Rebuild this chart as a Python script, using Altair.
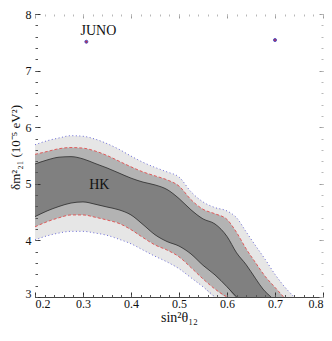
import altair as alt
import pandas as pd

# ---- data ----
# outer (light) region, boundary blue dotted
outer_x = [0.2, 0.225, 0.25, 0.275, 0.3, 0.325, 0.35, 0.375, 0.4, 0.425, 0.45, 0.475,
           0.5, 0.525, 0.55, 0.575, 0.6, 0.62, 0.64, 0.66, 0.68, 0.7, 0.72, 0.74]
outer_upper = [5.69, 5.76, 5.81, 5.85, 5.84, 5.79, 5.71, 5.61, 5.49, 5.38, 5.29, 5.21,
               5.12, 4.86, 4.68, 4.58, 4.52, 4.40, 4.15, 3.90, 3.66, 3.40, 3.18, 3.00]
outer_lower = [4.01, 4.08, 4.13, 4.16, 4.16, 4.13, 4.09, 4.02, 3.94, 3.83, 3.72, 3.62,
               3.50, 3.34, 3.18, 3.00, None, None, None, None, None, None, None, None]

# middle region, boundary red dashed
mid_x = [0.2, 0.225, 0.25, 0.275, 0.3, 0.325, 0.35, 0.375, 0.4, 0.425, 0.45, 0.475,
         0.5, 0.525, 0.55, 0.575, 0.6, 0.62, 0.64, 0.66, 0.68, 0.7, 0.718]
mid_upper = [5.52, 5.57, 5.62, 5.64, 5.63, 5.58, 5.50, 5.40, 5.30, 5.21, 5.14, 5.07,
             4.96, 4.72, 4.55, 4.47, 4.37, 4.14, 3.85, 3.60, 3.36, 3.17, 3.00]
mid_lower = [4.24, 4.33, 4.40, 4.45, 4.45, 4.41, 4.36, 4.30, 4.19, 4.05, 3.92, 3.83,
             3.71, 3.52, 3.32, 3.14, 3.00, None, None, None, None, None, None]

# inner (dark) region, boundary black solid
dark_x = [0.2, 0.225, 0.25, 0.275, 0.3, 0.325, 0.35, 0.375, 0.4, 0.425, 0.45, 0.475,
          0.5, 0.525, 0.55, 0.575, 0.6, 0.62, 0.64, 0.66, 0.675, 0.692]
dark_upper = [5.35, 5.42, 5.47, 5.48, 5.44, 5.36, 5.28, 5.19, 5.10, 5.03, 4.98, 4.90,
              4.74, 4.54, 4.38, 4.29, 4.07, 3.78, 3.57, 3.32, 3.14, 3.00]
dark_lower = [4.42, 4.52, 4.60, 4.66, 4.68, 4.64, 4.59, 4.54, 4.45, 4.28, 4.10, 3.98,
              3.90, 3.76, 3.56, 3.39, 3.18, 3.00, None, None, None, None]

# best-fit points
pt_x = [0.307, 0.70]
pt_y = [7.51, 7.54]

# labels
lab_text = ["JUNO", "HK"]
lab_x = [0.332, 0.334]
lab_y = [7.63, 4.91]

x_major = [0.2, 0.3, 0.4, 0.5, 0.6, 0.7, 0.8]
x_minor = [round(0.2 + 0.02 * i, 2) for i in range(31)]
y_major = [3, 4, 5, 6, 7, 8]
y_minor = [round(3 + 0.2 * i, 1) for i in range(26)]

W, H = 288, 283
FONT = "Liberation Serif"

xs = alt.Scale(domain=[0.2, 0.8], nice=False, zero=False)
ys = alt.Scale(domain=[3, 8], nice=False, zero=False)


def band_df(x, up, lo):
    df = pd.DataFrame({"x": x, "upper": up, "lower": lo})
    df["lower_fill"] = df["lower"].fillna(3.0)
    return df


def line_df(x, up, lo):
    df = pd.DataFrame({"x": x, "upper": up, "lower": lo})
    long = df.melt(id_vars="x", var_name="side", value_name="y").dropna()
    return long


def tick_axis(orient, offset, values, size, color):
    return alt.Axis(orient=orient, offset=offset, values=values, tickSize=size,
                    tickColor=color, tickWidth=1, labels=False, domain=False,
                    title=None, grid=False, zindex=1)


main_x = alt.Axis(orient="bottom", title="sin²θ₁₂", values=x_major, format=".1f",
                  ticks=False, domain=True, domainColor="#444444", domainWidth=1,
                  labelPadding=1, titlePadding=1, labelFontSize=12, titleFontSize=14,
                  labelFont=FONT, titleFont=FONT,
                  grid=False, zindex=1)
main_y = alt.Axis(orient="left", title="δm²₂₁ (10⁻⁵ eV²)", values=y_major, format="d",
                  ticks=False, domain=False, labelPadding=4, labelFontSize=12,
                  labelFont=FONT, titleFont=FONT,
                  titleFontSize=13, grid=False, titleX=-16, titleY=133,
                  titleAngle=270, titleAlign="center", titleBaseline="alphabetic",
                  labelBaseline={"condition": {"test": "datum.value === 3", "value": "alphabetic"},
                                 "value": "middle"})

# areas with axes
area_outer = alt.Chart(band_df(outer_x, outer_upper, outer_lower)).mark_area(
    color="#e6e6e6", interpolate="monotone").encode(
    x=alt.X("x:Q", scale=xs, axis=main_x),
    y=alt.Y("upper:Q", scale=ys, axis=main_y),
    y2="lower_fill:Q")

area_mid = alt.Chart(band_df(mid_x, mid_upper, mid_lower)).mark_area(
    color="#b3b3b3", interpolate="monotone").encode(
    x=alt.X("x:Q", scale=xs, axis=tick_axis("top", -H, x_major, 5, "#333333")),
    y=alt.Y("upper:Q", scale=ys, axis=tick_axis("right", -W, y_major, 5, "#333333")),
    y2="lower_fill:Q")

area_dark = alt.Chart(band_df(dark_x, dark_upper, dark_lower)).mark_area(
    color="#808080", interpolate="monotone").encode(
    x=alt.X("x:Q", scale=xs, axis=tick_axis("top", -H, x_minor, 2.5, "#555555")),
    y=alt.Y("upper:Q", scale=ys, axis=tick_axis("right", -W, y_minor, 2.5, "#555555")),
    y2="lower_fill:Q")

line_outer = alt.Chart(line_df(outer_x, outer_upper, outer_lower)).mark_line(
    color="#6a6ad6", strokeWidth=1, strokeDash=[1, 2.5], interpolate="monotone").encode(
    x=alt.X("x:Q", scale=xs, axis=tick_axis("bottom", -H, x_major, 4, "#9a9a9a")),
    y=alt.Y("y:Q", scale=ys, axis=tick_axis("left", -W, y_major, 4, "#9a9a9a")),
    detail="side:N")

line_mid = alt.Chart(line_df(mid_x, mid_upper, mid_lower)).mark_line(
    color="#e05a5a", strokeWidth=1, strokeDash=[3, 2], interpolate="monotone").encode(
    x=alt.X("x:Q", scale=xs, axis=tick_axis("bottom", -H, x_minor, 2, "#b8b8b8")),
    y=alt.Y("y:Q", scale=ys, axis=tick_axis("left", -W, y_minor, 2, "#b8b8b8")),
    detail="side:N")

line_dark = alt.Chart(line_df(dark_x, dark_upper, dark_lower)).mark_line(
    color="#2a2a2a", strokeWidth=0.8, interpolate="monotone").encode(
    x=alt.X("x:Q", scale=xs, axis=None),
    y=alt.Y("y:Q", scale=ys, axis=None),
    detail="side:N")

points = alt.Chart(pd.DataFrame({"x": pt_x, "y": pt_y})).mark_point(
    filled=True, size=9, fill="#b8304a", stroke="#5050c8", strokeWidth=1, opacity=1).encode(
    x=alt.X("x:Q", scale=xs, axis=None),
    y=alt.Y("y:Q", scale=ys, axis=None))

labels = alt.Chart(pd.DataFrame({"x": lab_x, "y": lab_y, "t": lab_text})).mark_text(
    font=FONT, fontSize=14, align="center", baseline="alphabetic", color="#111111").encode(
    x=alt.X("x:Q", scale=xs, axis=None),
    y=alt.Y("y:Q", scale=ys, axis=None),
    text="t:N")

chart = alt.layer(area_outer, area_mid, area_dark, line_outer, line_mid, line_dark,
                  points, labels).resolve_axis(
    x="independent", y="independent").properties(
    width=W, height=H,
    autosize=alt.AutoSizeParams(type="none"),
    padding={"left": 27, "top": 6, "right": 1, "bottom": 32}
).configure(font=FONT).configure_axis(
    labelFont=FONT, titleFont=FONT, labelColor="#111111", titleColor="#111111",
    titleFontWeight="normal"
).configure_view(stroke=None)

chart.save("out.html", embed_options={"renderer": "svg", "actions": False})
